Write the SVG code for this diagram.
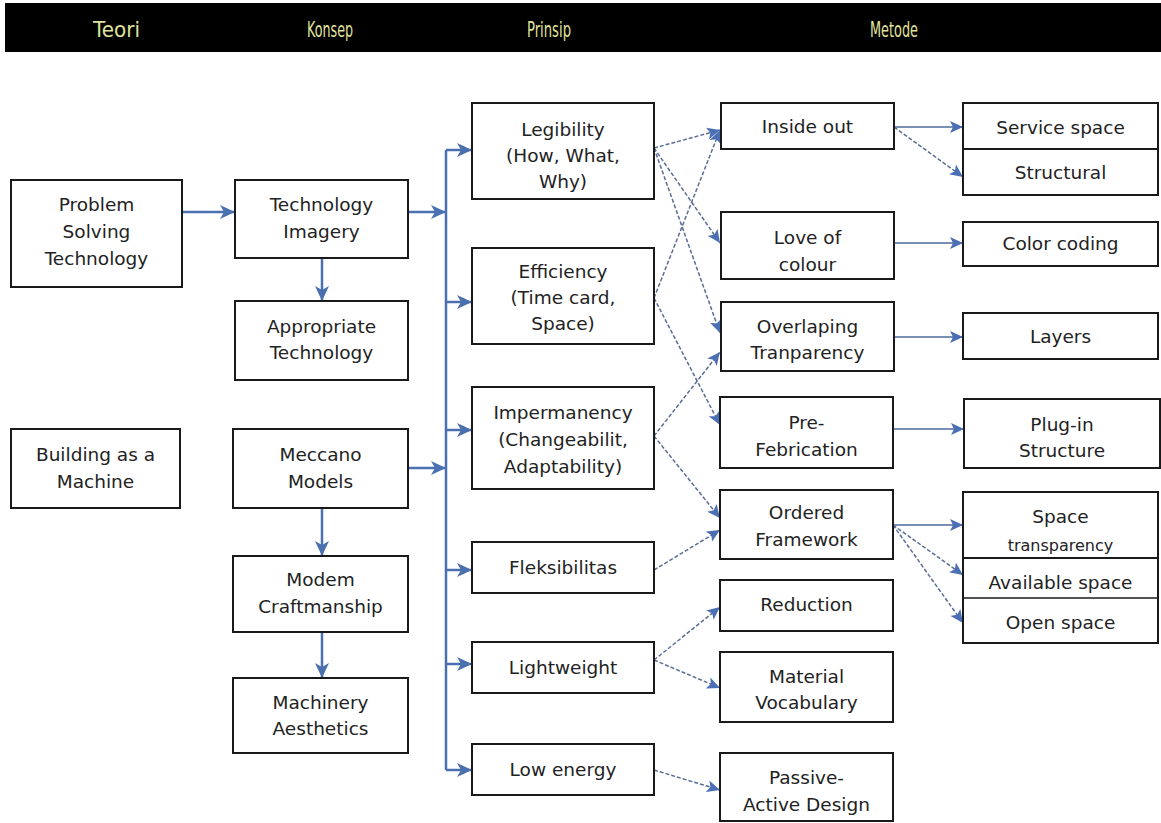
<svg xmlns="http://www.w3.org/2000/svg" width="1161" height="823" viewBox="0 0 1161 823">
<style>
.box{fill:#fff;stroke:#1a1a1a;stroke-width:2}
.t{font-family:"DejaVu Sans",Verdana,sans-serif;font-size:18.5px;fill:#222;text-anchor:middle}
.h{font-family:"DejaVu Sans",sans-serif;font-size:21px;fill:#e0e39c}
.thick{stroke:#4a70b0;stroke-width:2.5;fill:none}
.thin{stroke:#4e6a9e;stroke-width:1.5;fill:none}
.dash{stroke:#5a6d94;stroke-width:1.5;fill:none;stroke-dasharray:4 2}
</style>
<defs>
<marker id="ab" markerUnits="userSpaceOnUse" markerWidth="16" markerHeight="14" refX="15" refY="7" orient="auto"><path d="M0,0 L15,7 L0,14 L4,7 z" fill="#4a70b0"/></marker>
<marker id="as" markerUnits="userSpaceOnUse" markerWidth="14" markerHeight="12" refX="13" refY="6" orient="auto"><path d="M0,0 L13,6 L0,12 L3,6 z" fill="#4a6fb5"/></marker>
</defs>
<rect x="0" y="0" width="1161" height="823" fill="#fff"/>
<g id="header">
<rect x="5" y="3" width="1156" height="49" fill="#000"/>
<text class="h" x="93" y="37" textLength="47" lengthAdjust="spacingAndGlyphs">Teori</text>
<text class="h" x="307" y="37" textLength="46" lengthAdjust="spacingAndGlyphs">Konsep</text>
<text class="h" x="527" y="37" textLength="44" lengthAdjust="spacingAndGlyphs">Prinsip</text>
<text class="h" x="870" y="37" textLength="48" lengthAdjust="spacingAndGlyphs">Metode</text>
</g>
<g id="connectors">
<line class="thick" x1="182" y1="212" x2="235" y2="212" marker-end="url(#ab)"/>
<line class="thick" x1="322" y1="258" x2="322" y2="301" marker-end="url(#ab)"/>
<line class="thick" x1="408" y1="212" x2="446" y2="212" marker-end="url(#ab)"/>
<line class="thick" x1="408" y1="468" x2="446" y2="468" marker-end="url(#ab)"/>
<line class="thick" x1="322" y1="508" x2="322" y2="556" marker-end="url(#ab)"/>
<line class="thick" x1="322" y1="632" x2="322" y2="678" marker-end="url(#ab)"/>
<path class="thick" d="M446,150 V770"/>
<line class="thick" x1="446" y1="150" x2="472" y2="150" marker-end="url(#ab)"/>
<line class="thick" x1="446" y1="302" x2="472" y2="302" marker-end="url(#ab)"/>
<line class="thick" x1="446" y1="430" x2="472" y2="430" marker-end="url(#ab)"/>
<line class="thick" x1="446" y1="570" x2="472" y2="570" marker-end="url(#ab)"/>
<line class="thick" x1="446" y1="664" x2="472" y2="664" marker-end="url(#ab)"/>
<line class="thick" x1="446" y1="770" x2="472" y2="770" marker-end="url(#ab)"/>
<line class="dash" x1="654" y1="148" x2="720" y2="130" marker-end="url(#as)"/>
<line class="dash" x1="654" y1="148" x2="720" y2="243" marker-end="url(#as)"/>
<line class="dash" x1="654" y1="148" x2="720" y2="333" marker-end="url(#as)"/>
<line class="dash" x1="654" y1="298" x2="720" y2="130" marker-end="url(#as)"/>
<line class="dash" x1="654" y1="298" x2="720" y2="425" marker-end="url(#as)"/>
<line class="dash" x1="654" y1="436" x2="720" y2="352" marker-end="url(#as)"/>
<line class="dash" x1="654" y1="436" x2="720" y2="518" marker-end="url(#as)"/>
<line class="dash" x1="654" y1="570" x2="720" y2="530" marker-end="url(#as)"/>
<line class="dash" x1="654" y1="660" x2="720" y2="607" marker-end="url(#as)"/>
<line class="dash" x1="654" y1="660" x2="720" y2="688" marker-end="url(#as)"/>
<line class="dash" x1="654" y1="770" x2="720" y2="790" marker-end="url(#as)"/>
<line class="thin" x1="894" y1="127" x2="963" y2="127" marker-end="url(#as)"/>
<line class="dash" x1="894" y1="127" x2="963" y2="177" marker-end="url(#as)"/>
<line class="thin" x1="894" y1="243" x2="963" y2="243" marker-end="url(#as)"/>
<line class="thin" x1="894" y1="337" x2="963" y2="337" marker-end="url(#as)"/>
<line class="thin" x1="893" y1="429" x2="964" y2="429" marker-end="url(#as)"/>
<line class="thin" x1="893" y1="525" x2="963" y2="525" marker-end="url(#as)"/>
<line class="dash" x1="893" y1="525" x2="963" y2="575" marker-end="url(#as)"/>
<line class="dash" x1="893" y1="525" x2="963" y2="623" marker-end="url(#as)"/>
</g>
<g id="problem-solving"><rect class="box" x="11" y="180" width="171" height="107"/><text class="t" x="96.5" y="211">Problem</text><text class="t" x="96.5" y="238">Solving</text><text class="t" x="96.5" y="265">Technology</text></g>
<g id="technology-imagery"><rect class="box" x="235" y="180" width="173" height="78"/><text class="t" x="321.5" y="211">Technology</text><text class="t" x="321.5" y="238">Imagery</text></g>
<g id="appropriate-technology"><rect class="box" x="235" y="301" width="173" height="79"/><text class="t" x="321.5" y="333">Appropriate</text><text class="t" x="321.5" y="359">Technology</text></g>
<g id="building-machine"><rect class="box" x="11" y="429" width="169" height="79"/><text class="t" x="95.5" y="461">Building as a</text><text class="t" x="95.5" y="488">Machine</text></g>
<g id="meccano-models"><rect class="box" x="233" y="429" width="175" height="79"/><text class="t" x="320.5" y="461">Meccano</text><text class="t" x="320.5" y="488">Models</text></g>
<g id="modern-craftmanship"><rect class="box" x="233" y="556" width="175" height="76"/><text class="t" x="320.5" y="586">Modem</text><text class="t" x="320.5" y="613">Craftmanship</text></g>
<g id="machinery-aesthetics"><rect class="box" x="233" y="678" width="175" height="75"/><text class="t" x="320.5" y="709">Machinery</text><text class="t" x="320.5" y="735">Aesthetics</text></g>
<g id="legibility"><rect class="box" x="472" y="103" width="182" height="96"/><text class="t" x="563" y="136">Legibility</text><text class="t" x="563" y="162">(How, What,</text><text class="t" x="563" y="188">Why)</text></g>
<g id="efficiency"><rect class="box" x="472" y="248" width="182" height="96"/><text class="t" x="563" y="278">Efficiency</text><text class="t" x="563" y="304">(Time card,</text><text class="t" x="563" y="330">Space)</text></g>
<g id="impermanency"><rect class="box" x="472" y="387" width="182" height="102"/><text class="t" x="563" y="419">Impermanency</text><text class="t" x="563" y="446">(Changeabilit,</text><text class="t" x="563" y="473">Adaptability)</text></g>
<g id="fleksibilitas"><rect class="box" x="472" y="542" width="182" height="51"/><text class="t" x="563" y="574">Fleksibilitas</text></g>
<g id="lightweight"><rect class="box" x="472" y="642" width="182" height="51"/><text class="t" x="563" y="674">Lightweight</text></g>
<g id="low-energy"><rect class="box" x="472" y="744" width="182" height="51"/><text class="t" x="563" y="776">Low energy</text></g>
<g id="inside-out"><rect class="box" x="721" y="103" width="173" height="46"/><text class="t" x="807.5" y="133">Inside out</text></g>
<g id="love-of-colour"><rect class="box" x="721" y="212" width="173" height="67"/><text class="t" x="807.5" y="244">Love of</text><text class="t" x="807.5" y="271">colour</text></g>
<g id="overlaping"><rect class="box" x="721" y="302" width="173" height="69"/><text class="t" x="807.5" y="333">Overlaping</text><text class="t" x="807.5" y="359">Tranparency</text></g>
<g id="pre-febrication"><rect class="box" x="720" y="397" width="173" height="71"/><text class="t" x="806.5" y="429">Pre-</text><text class="t" x="806.5" y="456">Febrication</text></g>
<g id="ordered-framework"><rect class="box" x="720" y="490" width="173" height="69"/><text class="t" x="806.5" y="519">Ordered</text><text class="t" x="806.5" y="546">Framework</text></g>
<g id="reduction"><rect class="box" x="720" y="580" width="173" height="51"/><text class="t" x="806.5" y="611">Reduction</text></g>
<g id="material-vocabulary"><rect class="box" x="720" y="652" width="173" height="70"/><text class="t" x="806.5" y="683">Material</text><text class="t" x="806.5" y="709">Vocabulary</text></g>
<g id="passive-active"><rect class="box" x="720" y="753" width="173" height="68"/><text class="t" x="806.5" y="784">Passive-</text><text class="t" x="806.5" y="811">Active Design</text></g>
<g id="service-structural"><rect class="box" x="963" y="103" width="195" height="92"/><line x1="963" y1="149" x2="1158" y2="149" stroke="#1a1a1a" stroke-width="2"/><text class="t" x="1060.5" y="134">Service space</text><text class="t" x="1060.5" y="179">Structural</text></g>
<g id="color-coding"><rect class="box" x="963" y="222" width="195" height="44"/><text class="t" x="1060.5" y="250">Color coding</text></g>
<g id="layers"><rect class="box" x="963" y="313" width="195" height="46"/><text class="t" x="1060.5" y="343">Layers</text></g>
<g id="plug-in"><rect class="box" x="964" y="399" width="196" height="69"/><text class="t" x="1062" y="431">Plug-in</text><text class="t" x="1062" y="457">Structure</text></g>
<g id="space-group"><rect class="box" x="963" y="492" width="195" height="151"/><line x1="963" y1="558" x2="1158" y2="558" stroke="#1a1a1a" stroke-width="2"/><line x1="963" y1="598" x2="1158" y2="598" stroke="#1a1a1a" stroke-width="1.5"/><text class="t" x="1060.5" y="523">Space</text><text class="t" x="1060.5" y="551" style="font-size:16px">transparency</text><text class="t" x="1060.5" y="589">Available space</text><text class="t" x="1060.5" y="629">Open space</text></g>
</svg>
